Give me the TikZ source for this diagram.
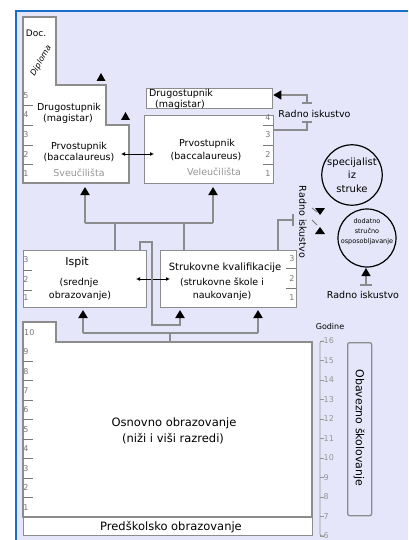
\documentclass[tikz,border=0pt]{standalone}
\usepackage{fontspec}
\setmainfont{DejaVu Sans}
\usetikzlibrary{arrows.meta}
\definecolor{lav}{RGB}{230,230,250}
\definecolor{frameblue}{RGB}{25,110,200}
\definecolor{boxgray}{RGB}{140,140,140}
\definecolor{numgray}{RGB}{120,120,120}
\definecolor{lightgr}{RGB}{150,150,150}
\tikzset{
  box/.style={draw=boxgray, line width=1.3pt, fill=white},
  txt/.style={font=\fontsize{9.5}{11}\selectfont, inner sep=0pt, text=black},
  bigtxt/.style={font=\fontsize{11.5}{13}\selectfont, inner sep=0pt, text=black},
  graytxt/.style={font=\fontsize{9.5}{11}\selectfont, inner sep=0pt, text=lightgr},
  num/.style={font=\fontsize{8}{9}\selectfont, text=numgray, inner sep=0pt},
  agenum/.style={font=\fontsize{8}{9}\selectfont, text=lightgr, inner sep=0pt, anchor=west},
  tickline/.style={draw=numgray, line width=0.8pt},
  conn/.style={draw=boxgray, line width=1.8pt},
  uptip/.style={-{Triangle[width=9pt,length=8pt,color=black]}},
  dbl/.style={{Latex[length=4pt,width=4pt]}-{Latex[length=4pt,width=4pt]}, line width=0.9pt, draw=black},
  circ/.style={circle, draw=black, line width=1.2pt, fill=lav, inner sep=0pt, minimum size=58pt},
}
\begin{document}
\begin{tikzpicture}[x=1pt,y=-1pt]
\useasboundingbox (0,0) rectangle (408,540);
\fill[white] (0,0) rectangle (408,540);
\fill[lav] (16,11) rectangle (408,540);
\draw[frameblue, line width=2pt] (16,540) -- (16,11) -- (408,11);

% ---------- Sveucilista ----------
\draw[box] (23,17) -- (56,17) -- (56,85) -- (106,85) -- (106,125) -- (129,125) -- (129,183) -- (23,183) -- cycle;
\foreach \yy in {105,125,145,164} \draw[tickline] (23,\yy) -- (33,\yy);
\node[num] (sv5) at (26,95.5) {5};
\node[num] (sv4) at (26,115) {4};
\node[num] (sv3) at (26,135) {3};
\node[num] (sv2) at (26,154.5) {2};
\node[num] (sv1) at (26,173.5) {1};
\node[txt, font=\fontsize{9}{10}\selectfont] (doc) at (36,33) {Doc.};
\node[txt, font=\fontsize{8}{9}\selectfont\itshape, rotate=60] (dipl) at (41,61) {Diploma};
\node[txt] (svdrug) at (69,108) {Drugostupnik};
\node[txt] (svmag) at (68,119) {(magistar)};
\node[txt] (svprvo) at (79,147) {Prvostupnik};
\node[txt] (svbacc) at (79,158) {(baccalaureus)};
\node[graytxt] (svname) at (79,173) {Sveučilišta};
\fill (96.5,81) -- (105.5,81) -- (101,73) -- cycle;
\fill (121,120) -- (130,120) -- (125.5,112) -- cycle;

% ---------- Veleucilista ----------
\node[box, minimum width=126pt, minimum height=20pt, anchor=north west] (velmag) at (146,88) {};
\node[txt] (veldrug) at (181,94) {Drugostupnik};
\node[txt] (velmagt) at (180,105) {(magistar)};
\node[box, minimum width=129pt, minimum height=68pt, anchor=north west] (vel) at (144,115) {};
\foreach \yy in {125,145,164} \draw[tickline] (263,\yy) -- (273,\yy);
\node[num] (vl4) at (268,118) {4};
\node[num] (vl3) at (268,135) {3};
\node[num] (vl2) at (268,154.5) {2};
\node[num] (vl1) at (268,173.5) {1};
\node[txt] (velprvo) at (207,144) {Prvostupnik};
\node[txt] (velbacc) at (206,157) {(baccalaureus)};
\node[graytxt] (velname) at (214,172) {Veleučilišta};
\coordinate (svright) at (121,154);
\coordinate (velleft) at (154,154);
\draw[dbl] (svright) -- (velleft);

% Radno iskustvo bracket (top right)
\coordinate (ri1) at (307,103);
\coordinate (ri2) at (307,122);
\draw[conn, line width=1.3pt, -{Triangle[width=9pt,length=8pt,color=black]}] (ri1) -- (307,95) -- (velmag.east |- 0,95);
\draw[conn, line width=1.3pt] (302,103) -- (312,103);
\draw[conn, line width=1.3pt] (302,122) -- (312,122);
\draw[conn, line width=1.3pt] (ri2) -- (307,130) -- (vel.east |- 0,130);
\node[txt] (ritop) at (314.5,114) {Radno iskustvo};

% ---------- circles ----------
\node[circ, align=center, font=\fontsize{10}{13.5}\selectfont] (spec) at (352,175) {specijalist\\iz\\struke};
\node[circ] (dod) at (367,238) {};
\node[txt, align=center, font=\fontsize{6.5}{10}\selectfont] (dodt) at (367,232) {dodatno\\stručno\\osposobljavanje};
\coordinate (dodT) at (366,285);
\draw[conn, line width=1.3pt, -{Triangle[width=9pt,length=8pt,color=black]}] (dodT) -- (366,268);
\draw[conn, line width=1.3pt] (360,285) -- (372,285);
\node[txt] (ribot) at (363,295) {Radno iskustvo};

% rotated Radno iskustvo + arrows
\node[txt, rotate=-90] (rirot) at (303,222) {Radno iskustvo};
\draw[draw=numgray, line width=0.8pt] (312,208) -- (317,212);
\fill (315,208) -- (325,208) -- (320,215) -- cycle;
\draw[draw=numgray, line width=0.8pt] (312,220) -- (317,225);
\fill (315,234) -- (325,234) -- (320,227) -- cycle;

% ---------- Ispit / Strukovne ----------
\node[box, minimum width=123pt, minimum height=57pt, anchor=north west] (ispit) at (23,250) {};
\foreach \yy in {270,290} \draw[tickline] (23,\yy) -- (32,\yy);
\node[num] (is3) at (26,260) {3};
\node[num] (is2) at (26,280) {2};
\node[num] (is1) at (26,298) {1};
\node[txt, font=\fontsize{11}{13}\selectfont] (ispitt) at (77,262) {Ispit};
\node[txt] (ispit2) at (79,283) {(srednje};
\node[txt] (ispit3) at (80,296) {obrazovanje)};

\node[box, minimum width=136pt, minimum height=57pt, anchor=north west] (struk) at (160,250) {};
\foreach \yy in {268,288} \draw[tickline] (286,\yy) -- (296,\yy);
\node[num] (st3) at (292,259) {3};
\node[num] (st2) at (292,279) {2};
\node[num] (st1) at (292,298) {1};
\node[txt, font=\fontsize{10}{12}\selectfont] (strukt) at (225,268) {Strukovne kvalifikacije};
\node[txt] (struk2) at (222,282) {(strukovne škole i};
\node[txt] (struk3) at (222,296) {naukovanje)};
\coordinate (isright) at (136,279);
\coordinate (stleft) at (170,279);
\draw[dbl] (isright) -- (stleft);

% Strukovne -> rad. iskustvo
\draw[conn, line width=1.3pt] (struk.north -| 278,0) -- (278,220) -- (293,220);
\draw[conn, line width=1.3pt] (293,214) -- (293,226);

% connectors above
\coordinate (j1) at (85,223);
\coordinate (j2) at (213,223);
\coordinate (svB) at (85,187);
\coordinate (velB) at (213,187);
\draw[conn] (j1) -- (j2);
\draw[conn, uptip] (j1) -- (svB);
\draw[conn, uptip] (j2) -- (velB);
\draw[conn] (115,223) -- (ispit.north -| 115,0);
\draw[conn] (184,223) -- (struk.north -| 184,0);
% loop ispit -> strukovne
\draw[conn, uptip] (ispit.north -| 140,0) -- (140,242) -- (152,242) -- (152,325) -- (180,325) -- (180,310);

% ---------- Osnovno ----------
\draw[box] (23,322) -- (56,322) -- (56,342) -- (312,342) -- (312,517) -- (23,517) -- cycle;
\node[box, minimum width=289pt, minimum height=18pt, anchor=north west] (pred) at (23,517) {};
\node[bigtxt] (predt) at (171,527) {Predškolsko obrazovanje};
\node[num, anchor=west] (os10) at (24,333) {10};
\foreach \k in {1,...,8} { \draw[tickline] (23,{342+19.44*\k}) -- (33,{342+19.44*\k}); }
\foreach \n in {1,...,9} { \node[num] (os\n) at (26,{517-19.44*\n+9.72}) {\n}; }
\node[bigtxt] (osn1) at (174,423) {Osnovno obrazovanje};
\node[bigtxt] (osn2) at (173,439) {(niži i viši razredi)};
\coordinate (osnT) at (170,342);

% connectors below
\coordinate (k1) at (83,333);
\coordinate (k2) at (258,333);
\draw[conn] (k1) -- (k2);
\draw[conn] (170,333) -- (osnT);
\draw[conn, uptip] (k1) -- (83,310);
\draw[conn, uptip] (k2) -- (258,310);

% ---------- ages ----------
\node[txt, font=\fontsize{8}{9}\selectfont] (godine) at (330,327) {Godine};
\draw[draw=lightgr, line width=0.9pt, rounded corners=2pt] (324,341) -- (320,341) -- (320,536) -- (324,536);
\foreach \a in {6,...,16} {
  \pgfmathsetmacro\yy{341+(16-\a)*19.5}
  \draw[draw=lightgr, line width=0.9pt] (320,\yy) -- (324,\yy);
  \node[agenum] (age\a) at (323.5,\yy) {\a};
}
\node[draw=boxgray, line width=1.3pt, rounded corners=2pt, minimum width=24pt, minimum height=173pt, anchor=north west, inner sep=0pt] (obav) at (347,342) {};
\node[txt, font=\fontsize{11}{13}\selectfont, rotate=-90] (obavt) at (359,428) {Obavezno školovanje};
\end{tikzpicture}
\end{document}
